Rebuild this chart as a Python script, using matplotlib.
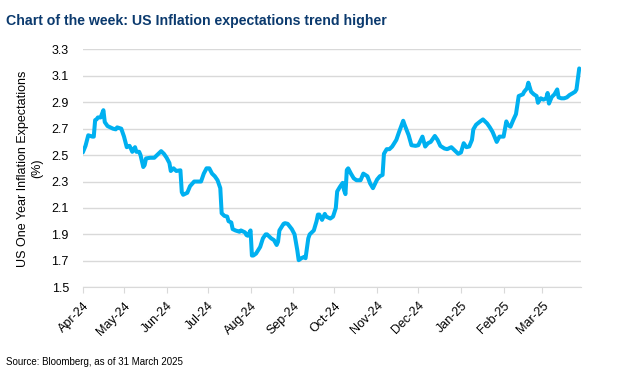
import numpy as np
import pandas as pd
import matplotlib
matplotlib.use("Agg")
import matplotlib.pyplot as plt
import matplotlib.dates as mdates

plt.rcParams['font.family'] = ['Liberation Sans', 'DejaVu Sans']

# US one year inflation expectations (%)
dates = [
    "2024-04-01", "2024-04-03", "2024-04-04", "2024-04-05", "2024-04-08", "2024-04-09",
    "2024-04-10", "2024-04-11", "2024-04-12", "2024-04-14", "2024-04-16", "2024-04-17",
    "2024-04-19", "2024-04-23", "2024-04-25", "2024-04-26", "2024-04-29", "2024-05-01",
    "2024-05-03", "2024-05-05", "2024-05-06", "2024-05-07", "2024-05-09", "2024-05-10",
    "2024-05-12", "2024-05-13", "2024-05-15", "2024-05-16", "2024-05-17", "2024-05-20",
    "2024-05-23", "2024-05-25", "2024-05-28", "2024-05-30", "2024-06-01", "2024-06-03",
    "2024-06-04", "2024-06-06", "2024-06-08", "2024-06-11", "2024-06-12", "2024-06-13",
    "2024-06-16", "2024-06-18", "2024-06-21", "2024-06-24", "2024-06-26", "2024-06-28",
    "2024-06-30", "2024-07-02", "2024-07-04", "2024-07-06", "2024-07-08", "2024-07-10",
    "2024-07-11", "2024-07-13", "2024-07-15", "2024-07-16", "2024-07-18", "2024-07-19",
    "2024-07-21", "2024-07-24", "2024-07-25", "2024-07-28", "2024-07-29", "2024-07-30",
    "2024-08-01", "2024-08-02", "2024-08-03", "2024-08-05", "2024-08-08", "2024-08-10",
    "2024-08-12", "2024-08-13", "2024-08-16", "2024-08-18", "2024-08-20", "2024-08-21",
    "2024-08-22", "2024-08-25", "2024-08-26", "2024-08-28", "2024-08-31", "2024-09-02",
    "2024-09-04", "2024-09-05", "2024-09-07", "2024-09-09", "2024-09-10", "2024-09-12",
    "2024-09-13", "2024-09-15", "2024-09-16", "2024-09-18", "2024-09-19", "2024-09-20",
    "2024-09-22", "2024-09-24", "2024-09-25", "2024-09-28", "2024-09-30", "2024-10-02",
    "2024-10-03", "2024-10-05", "2024-10-07", "2024-10-08", "2024-10-09", "2024-10-10",
    "2024-10-11", "2024-10-13", "2024-10-15", "2024-10-17", "2024-10-20", "2024-10-22",
    "2024-10-25", "2024-10-27", "2024-10-29", "2024-11-01", "2024-11-03", "2024-11-05",
    "2024-11-06", "2024-11-08", "2024-11-10", "2024-11-12", "2024-11-15", "2024-11-17",
    "2024-11-20", "2024-11-21", "2024-11-24", "2024-11-26", "2024-11-29", "2024-12-01",
    "2024-12-04", "2024-12-06", "2024-12-08", "2024-12-10", "2024-12-13", "2024-12-15",
    "2024-12-17", "2024-12-20", "2024-12-22", "2024-12-25", "2024-12-27", "2024-12-30",
    "2025-01-01", "2025-01-03", "2025-01-05", "2025-01-07", "2025-01-09", "2025-01-10",
    "2025-01-12", "2025-01-15", "2025-01-17", "2025-01-20", "2025-01-22", "2025-01-24",
    "2025-01-26", "2025-01-27", "2025-01-29", "2025-02-01", "2025-02-03", "2025-02-04",
    "2025-02-06", "2025-02-08", "2025-02-10", "2025-02-12", "2025-02-15", "2025-02-16",
    "2025-02-18", "2025-02-19", "2025-02-21", "2025-02-23", "2025-02-25", "2025-02-26",
    "2025-02-28", "2025-03-02", "2025-03-04", "2025-03-05", "2025-03-06", "2025-03-08",
    "2025-03-10", "2025-03-12", "2025-03-13", "2025-03-15", "2025-03-17", "2025-03-19",
    "2025-03-21", "2025-03-23", "2025-03-25", "2025-03-26", "2025-03-28",
]
values = [
    2.52, 2.57, 2.61, 2.65, 2.64, 2.64,
    2.765, 2.77, 2.785, 2.785, 2.84, 2.75,
    2.72, 2.70, 2.695, 2.71, 2.70, 2.64,
    2.56, 2.57, 2.55, 2.525, 2.56, 2.525,
    2.525, 2.50, 2.41, 2.425, 2.475, 2.48,
    2.48, 2.50, 2.53, 2.51, 2.48, 2.44,
    2.38, 2.40, 2.38, 2.385, 2.22, 2.20,
    2.215, 2.265, 2.30, 2.30, 2.30, 2.36,
    2.40, 2.40, 2.36, 2.34, 2.31, 2.25,
    2.06, 2.04, 2.035, 2.00, 1.99, 1.94,
    1.93, 1.92, 1.93, 1.915, 1.895, 1.89,
    1.93, 1.74, 1.74, 1.755, 1.805, 1.87,
    1.90, 1.90, 1.87, 1.857, 1.82, 1.845,
    1.93, 1.98, 1.985, 1.98, 1.94, 1.90,
    1.78, 1.705, 1.72, 1.73, 1.72, 1.87,
    1.90, 1.92, 1.93, 2.00, 2.05, 2.05,
    2.01, 2.055, 2.035, 2.02, 2.035, 2.10,
    2.225, 2.26, 2.29, 2.235, 2.205, 2.387,
    2.40, 2.36, 2.325, 2.31, 2.31, 2.36,
    2.34, 2.285, 2.25, 2.315, 2.34, 2.35,
    2.51, 2.545, 2.545, 2.565, 2.615, 2.675,
    2.76, 2.73, 2.65, 2.575, 2.57, 2.575,
    2.64, 2.565, 2.59, 2.60, 2.645, 2.615,
    2.57, 2.55, 2.545, 2.56, 2.54, 2.51,
    2.52, 2.59, 2.56, 2.565, 2.615, 2.695,
    2.73, 2.755, 2.77, 2.74, 2.71, 2.675,
    2.625, 2.60, 2.64, 2.64, 2.755, 2.73,
    2.715, 2.765, 2.81, 2.947, 2.96, 2.98,
    3.005, 3.048, 2.98, 2.96, 2.947, 2.896,
    2.93, 2.92, 2.93, 2.97, 2.89, 2.94,
    2.96, 2.997, 2.937, 2.93, 2.93, 2.937,
    2.955, 2.967, 2.98, 2.997, 3.156,
]
y_ticks = [1.5, 1.7, 1.9, 2.1, 2.3, 2.5, 2.7, 2.9, 3.1, 3.3]

title = "Chart of the week: US Inflation expectations trend higher"
y_label = "US One Year Inflation Expectations\n(%)"
source = "Source: Bloomberg, as of 31 March 2025"

x = pd.to_datetime(dates)

fig = plt.figure(figsize=(6.27, 3.83), dpi=100)
ax = fig.add_axes([0.132, 0.250, 0.794, 0.621])

ax.plot(x, values, color="#00b0f0", lw=2.9, solid_joinstyle="round", solid_capstyle="round")

ax.set_ylim(1.5, 3.3)
ax.set_yticks(y_ticks)
ax.yaxis.set_major_formatter(plt.FormatStrFormatter("%.1f"))
ax.set_xlim(pd.Timestamp("2024-04-01"), pd.Timestamp("2025-03-29"))
ax.xaxis.set_major_locator(mdates.MonthLocator())
ax.xaxis.set_major_formatter(mdates.DateFormatter("%b-%y"))

ax.grid(axis="y", color="#d9d9d9", lw=1)
ax.set_axisbelow(True)
for s in ["top", "right", "left"]:
    ax.spines[s].set_visible(False)
ax.spines["bottom"].set_color("#d9d9d9")
ax.tick_params(axis="y", length=0, labelsize=9, pad=10)
ax.tick_params(axis="x", length=4, color="#d9d9d9", labelsize=9, pad=5)
for lab in ax.get_xticklabels():
    lab.set_rotation(45)
    lab.set_ha("right")
    lab.set_rotation_mode("anchor")

ax.set_ylabel(y_label, fontsize=9, labelpad=6)

fig.text(0.010, 0.945, title, fontsize=10.2, fontweight="bold", color="#0b3a6e", va="center")
fig.text(0.010, 0.055, source, fontsize=7, va="center")

fig.savefig("out.png", dpi=100)
